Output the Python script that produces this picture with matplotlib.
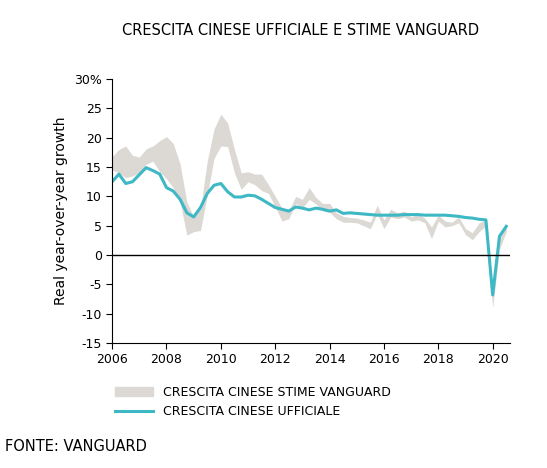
import matplotlib
matplotlib.use("Agg")
import matplotlib.pyplot as plt
import matplotlib.patches as mpatches
from matplotlib.lines import Line2D

# quarterly data, 2006Q1 .. 2020Q3
official = [12.5, 13.8, 12.2, 12.5, 13.7, 14.9, 14.4, 13.8,
            11.5, 10.9, 9.5, 7.2, 6.5, 8.1, 10.5, 11.9,
            12.2, 10.8, 9.9, 9.9, 10.2, 10.1, 9.5, 8.8,
            8.1, 7.8, 7.5, 8.2, 8.0, 7.7, 8.0, 7.8,
            7.5, 7.7, 7.1, 7.2, 7.1, 7.0, 6.9, 6.8,
            6.8, 6.8, 6.8, 6.9, 6.9, 6.9, 6.8, 6.8,
            6.8, 6.8, 6.7, 6.6, 6.4, 6.3, 6.1, 6.0,
            -6.8, 3.2, 4.9]
vanguard_hi = [16.8, 18.0, 18.6, 17.0, 16.7, 18.1, 18.6, 19.5,
               20.2, 19.0, 15.5, 9.0, 6.5, 8.0, 16.0, 21.5,
               24.0, 22.5, 18.0, 14.0, 14.2, 13.8, 13.8, 12.0,
               10.0, 8.0, 7.5, 10.0, 9.5, 11.5, 9.8, 8.8,
               8.8, 7.2, 6.6, 6.4, 6.3, 6.0, 5.6, 8.5,
               6.0, 7.8, 7.2, 7.5, 6.5, 7.0, 6.3, 4.8,
               6.8, 5.8, 5.6, 6.5, 4.5, 3.8, 5.5, 6.0,
               -6.0, 3.0, 5.0]
vanguard_lo = [14.5, 14.0, 13.2, 13.5, 14.0, 15.5, 16.0, 14.2,
               13.0, 11.5, 9.0, 3.4, 4.0, 4.2, 10.2, 16.5,
               18.6, 18.5, 14.0, 11.2, 12.5, 12.0, 11.0, 10.5,
               8.2, 5.8, 6.2, 8.8, 8.0, 9.5, 8.7, 7.5,
               7.3, 6.2, 5.6, 5.6, 5.5, 5.0, 4.5, 7.0,
               4.5, 6.5, 6.2, 6.5, 5.8, 6.0, 5.5, 2.8,
               5.8, 4.8, 5.0, 5.5, 3.5, 2.6, 4.0, 5.0,
               -9.0, 1.0, 4.0]
x = [2006 + i / 4 for i in range(len(official))]

TEAL = "#3DB8C4"
GREY = "#DCD8D3"

fig = plt.figure(figsize=(5.47, 4.68), dpi=100)
ax = fig.add_axes([0.205, 0.267, 0.727, 0.564])

ax.fill_between(x, vanguard_lo, vanguard_hi, color=GREY, lw=0)
ax.plot(x, official, color=TEAL, lw=2.2)
ax.axhline(0, color="black", lw=1)

ax.set_xlim(2006, 2020.63)
ax.set_ylim(-15, 30)
ax.set_xticks(range(2006, 2021, 2))
ax.set_yticks(range(-15, 31, 5))
ax.set_yticklabels([str(v) if v != 30 else "30%" for v in range(-15, 31, 5)])
for s in ["top", "right"]:
    ax.spines[s].set_visible(False)
ax.tick_params(labelsize=9, color="black", length=4)
ax.set_ylabel("Real year-over-year growth", fontsize=10)

fig.text(0.55, 0.935, "CRESCITA CINESE UFFICIALE E STIME VANGUARD",
         ha="center", va="center", fontsize=10.5)

handles = [mpatches.Patch(color=GREY, label="CRESCITA CINESE STIME VANGUARD"),
           Line2D([], [], color=TEAL, lw=2.2, label="CRESCITA CINESE UFFICIALE")]
fig.legend(handles=handles, loc="upper left", bbox_to_anchor=(0.19, 0.2),
           frameon=False, fontsize=9, handlelength=3)

fig.text(0.01, 0.045, "FONTE: VANGUARD", fontsize=10.5, va="center")

fig.savefig("out.png", dpi=100)
